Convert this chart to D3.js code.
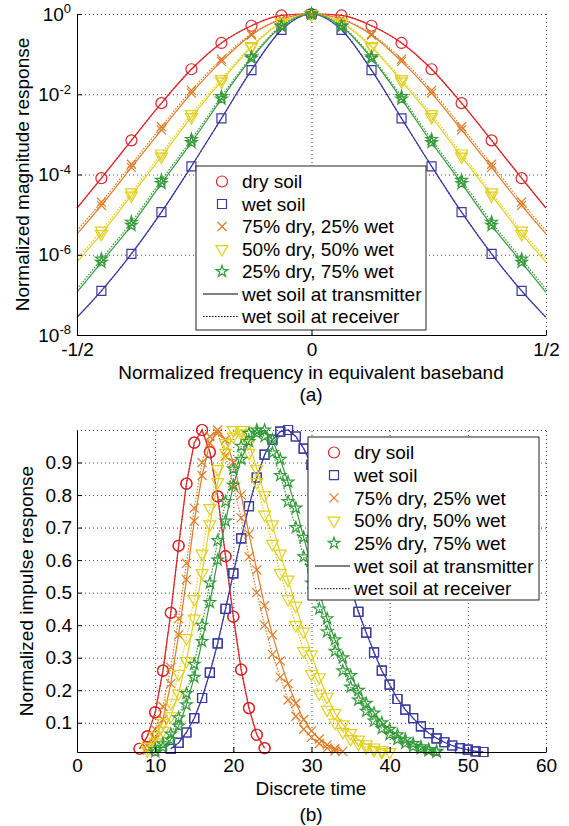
<!DOCTYPE html>
<html>
<head>
<meta charset="utf-8">
<script src="https://cdn.jsdelivr.net/npm/d3@7"></script>
<style>
  body { margin: 0; background: #fff; }
  svg { font-family: "Liberation Sans", Arial, Helvetica, sans-serif; }
  .grid line { stroke: #444; stroke-width: 1; stroke-dasharray: 1,3; }
  .grid path { display: none; }
  .axis path, .axis line { stroke: #000; }
</style>
</head>
<body>
<div id="chart"></div>
<script>
// ---------- data: (a) magnitude response ----------
const freqs = [-0.5, -0.448, -0.384, -0.32, -0.256, -0.192, -0.128, -0.064, 0,
               0.064, 0.128, 0.192, 0.256, 0.32, 0.384, 0.448, 0.5];

const dryMag   = [1.45e-5, 8.1e-5, 7.1e-4, 6.0e-3, 4.2e-2, 0.19, 0.51, 0.92, 1,
                  0.92, 0.51, 0.19, 4.2e-2, 6.0e-3, 7.1e-4, 8.1e-5, 1.45e-5];
const wetMag   = [2.75e-8, 1.26e-7, 1.05e-6, 1.15e-5, 1.6e-4, 2.5e-3, 4.0e-2, 0.40, 1,
                  0.40, 4.0e-2, 2.5e-3, 1.6e-4, 1.15e-5, 1.05e-6, 1.26e-7, 2.75e-8];
const mix75Tx  = [3.3e-6, 1.7e-5, 1.5e-4, 1.3e-3, 1.07e-2, 6.6e-2, 0.30, 0.74, 1,
                  0.74, 0.30, 6.6e-2, 1.07e-2, 1.3e-3, 1.5e-4, 1.7e-5, 3.3e-6];
const mix75Rx  = [4.0e-6, 2.05e-5, 1.8e-4, 1.55e-3, 1.25e-2, 7.5e-2, 0.32, 0.75, 1,
                  0.75, 0.32, 7.5e-2, 1.25e-2, 1.55e-3, 1.8e-4, 2.05e-5, 4.0e-6];
const mix50Tx  = [6.6e-7, 3.3e-6, 3.0e-5, 2.8e-4, 2.7e-3, 2.1e-2, 0.15, 0.60, 1,
                  0.60, 0.15, 2.1e-2, 2.7e-3, 2.8e-4, 3.0e-5, 3.3e-6, 6.6e-7];
const mix50Rx  = [8.0e-7, 4.0e-6, 3.6e-5, 3.35e-4, 3.2e-3, 2.4e-2, 0.16, 0.62, 1,
                  0.62, 0.16, 2.4e-2, 3.2e-3, 3.35e-4, 3.6e-5, 4.0e-6, 8.0e-7];
const mix25Tx  = [1.17e-7, 6.5e-7, 5.4e-6, 6.0e-5, 6.3e-4, 7.6e-3, 7.9e-2, 0.49, 1,
                  0.49, 7.9e-2, 7.6e-3, 6.3e-4, 6.0e-5, 5.4e-6, 6.5e-7, 1.17e-7];
const mix25Rx  = [1.4e-7, 7.8e-7, 6.5e-6, 7.2e-5, 7.5e-4, 8.8e-3, 8.6e-2, 0.51, 1,
                  0.51, 8.6e-2, 8.8e-3, 7.5e-4, 7.2e-5, 6.5e-6, 7.8e-7, 1.4e-7];

const magTicks = [1, 1e-2, 1e-4, 1e-6, 1e-8];
const freqTicks = [-0.5, 0, 0.5];
const freqTickLabels = ["-1/2", "0", "1/2"];

// ---------- data: (b) impulse response (first sample index + values) ----------
const dryStart = 8;
const dryImp = [0.02, 0.058, 0.132, 0.26, 0.438, 0.644, 0.835, 0.961, 1.0, 0.932, 0.796,
                0.612, 0.426, 0.263, 0.145, 0.063, 0.022];
const wetStart = 12;
const wetImp = [0.02, 0.038, 0.07, 0.114, 0.176, 0.254, 0.344, 0.45, 0.559, 0.667, 0.766,
                0.854, 0.924, 0.97, 0.995, 1.0, 0.98, 0.943, 0.893, 0.828, 0.753, 0.673,
                0.593, 0.518, 0.441, 0.377, 0.316, 0.26, 0.217, 0.173, 0.14, 0.114, 0.089,
                0.068, 0.052, 0.04, 0.03, 0.022, 0.017, 0.012, 0.01];
const imp75TxStart = 9;
const imp75Tx = [0.015, 0.05, 0.11, 0.22, 0.37, 0.54, 0.72, 0.86, 0.96, 1.0, 0.97, 0.9, 0.8,
                 0.68, 0.57, 0.46, 0.37, 0.29, 0.22, 0.16, 0.11, 0.075, 0.05, 0.032, 0.02, 0.012];
const imp75RxStart = 9;
const imp75Rx = [0.03, 0.08, 0.15, 0.27, 0.42, 0.59, 0.76, 0.9, 0.98, 0.99, 0.92, 0.83, 0.73,
                 0.61, 0.5, 0.4, 0.31, 0.24, 0.17, 0.12, 0.08, 0.055, 0.036, 0.022, 0.013];
const imp50TxStart = 9;
const imp50Tx = [0.015, 0.04, 0.075, 0.12, 0.19, 0.29, 0.42, 0.56, 0.71, 0.84, 0.93, 0.98, 1.0,
                 0.96, 0.88, 0.8, 0.71, 0.62, 0.54, 0.46, 0.38, 0.31, 0.24, 0.18, 0.13, 0.095,
                 0.068, 0.048, 0.034, 0.024, 0.016, 0.01];
const imp50RxStart = 9;
const imp50Rx = [0.025, 0.06, 0.1, 0.16, 0.25, 0.36, 0.48, 0.62, 0.76, 0.88, 0.96, 1.0, 0.99,
                 0.93, 0.84, 0.74, 0.65, 0.56, 0.48, 0.4, 0.32, 0.25, 0.19, 0.14, 0.1, 0.072,
                 0.05, 0.035, 0.024, 0.016, 0.01];
const imp25TxStart = 10;
const imp25Tx = [0.01, 0.025, 0.048, 0.09, 0.155, 0.24, 0.35, 0.47, 0.6, 0.72, 0.83, 0.91,
                 0.965, 0.99, 1.0, 0.97, 0.91, 0.84, 0.76, 0.67, 0.58, 0.5, 0.42, 0.355, 0.3,
                 0.245, 0.2, 0.16, 0.13, 0.1, 0.08, 0.063, 0.048, 0.036, 0.026, 0.018, 0.012];
const imp25RxStart = 10;
const imp25Rx = [0.018, 0.035, 0.065, 0.115, 0.19, 0.28, 0.4, 0.53, 0.66, 0.78, 0.88, 0.95,
                 0.99, 1.0, 0.98, 0.93, 0.86, 0.78, 0.7, 0.61, 0.53, 0.45, 0.38, 0.32, 0.26,
                 0.21, 0.17, 0.135, 0.105, 0.082, 0.064, 0.049, 0.037, 0.027, 0.02, 0.014, 0.01];

const timeTicks = [0, 10, 20, 30, 40, 50, 60];
const impTicks = [0.1, 0.2, 0.3, 0.4, 0.5, 0.6, 0.7, 0.8, 0.9];

const legendLabels = ["dry soil", "wet soil", "75% dry, 25% wet", "50% dry, 50% wet",
                      "25% dry, 75% wet", "wet soil at transmitter", "wet soil at receiver"];

// ---------- styles ----------
const colors = { dry: "#dc2428", wet: "#3a3aa2", m75: "#e07a24", m50: "#e2d020", m25: "#349a3a" };

const crossType = {
  draw(ctx, size) {
    const r = Math.sqrt(size) / 2;
    ctx.moveTo(-r, -r); ctx.lineTo(r, r);
    ctx.moveTo(r, -r); ctx.lineTo(-r, r);
  }
};
const markers = {
  dry: { type: d3.symbolCircle, size: 95, rot: 0 },
  wet: { type: d3.symbolSquare, size: 81, rot: 0 },
  m75: { type: crossType, size: 81, rot: 0 },
  m50: { type: d3.symbolTriangle, size: 62, rot: 180 },
  m25: { type: d3.symbolStar, size: 42, rot: 0 }
};
const keys = ["dry", "wet", "m75", "m50", "m25"];

const svg = d3.select("#chart").append("svg")
    .attr("width", 569)
    .attr("height", 826);

function drawMarkers(g, pts, key) {
  const m = markers[key];
  g.selectAll(null)
    .data(pts)
    .join("path")
    .attr("d", d3.symbol().type(m.type).size(m.size))
    .attr("transform", d => `translate(${d[0]},${d[1]}) rotate(${m.rot})`)
    .attr("fill", "none")
    .attr("stroke", colors[key])
    .attr("stroke-width", 1.2);
}

function drawLegend(x0, y0, w, h, step) {
  const lg = svg.append("g").attr("transform", `translate(${x0},${y0})`);
  lg.append("rect").attr("width", w).attr("height", h)
    .attr("fill", "#fff").attr("stroke", "#222").attr("stroke-width", 1);
  legendLabels.forEach((lab, i) => {
    const y = 15.5 + i * step;
    if (i < 5) {
      drawMarkers(lg, [[26, y]], keys[i]);
    } else {
      lg.append("line").attr("x1", 7).attr("x2", 42).attr("y1", y).attr("y2", y)
        .attr("stroke", "#000").attr("stroke-width", 1)
        .attr("stroke-dasharray", i === 6 ? "1.5,1.5" : null);
    }
    lg.append("text").attr("x", 46).attr("y", y).attr("dy", "0.35em")
      .attr("font-size", 19).text(lab);
  });
}

// ================= (a) =================
const xA = d3.scaleLinear().domain([-0.5, 0.5]).range([77, 546]);
const yA = d3.scaleLog().domain([1e-8, 1]).range([335, 14]);

const gridA = svg.append("g");
gridA.append("g").attr("class", "grid")
  .attr("transform", "translate(77,0)")
  .call(d3.axisLeft(yA).tickValues([1, 1e-2, 1e-4, 1e-6]).tickSize(-469).tickFormat(""));
gridA.append("g").attr("class", "grid")
  .attr("transform", "translate(0,335)")
  .call(d3.axisBottom(xA).tickValues([0, 0.5]).tickSize(-321).tickFormat(""));

const magSeries = [
  { key: "dry", tx: dryMag, rx: dryMag },
  { key: "wet", tx: wetMag, rx: wetMag },
  { key: "m75", tx: mix75Tx, rx: mix75Rx },
  { key: "m50", tx: mix50Tx, rx: mix50Rx },
  { key: "m25", tx: mix25Tx, rx: mix25Rx }
];
const lineA = d3.line().x(d => xA(d[0])).y(d => yA(d[1])).curve(d3.curveMonotoneX);
const plotA = svg.append("g");
magSeries.forEach(s => {
  const tx = freqs.map((f, i) => [f, s.tx[i]]);
  const rx = freqs.map((f, i) => [f, s.rx[i]]);
  plotA.append("path").datum(rx).attr("d", lineA).attr("fill", "none")
    .attr("stroke", colors[s.key]).attr("stroke-width", 1.2).attr("stroke-dasharray", "1.5,1.5");
  plotA.append("path").datum(tx).attr("d", lineA).attr("fill", "none")
    .attr("stroke", colors[s.key]).attr("stroke-width", 1.2);
  const pick = arr => arr.filter(d => Math.abs(d[0]) < 0.5).map(d => [xA(d[0]), yA(d[1])]);
  drawMarkers(plotA, pick(tx), s.key);
  if (s.rx !== s.tx) drawMarkers(plotA, pick(rx), s.key);
});

const yAxisA = svg.append("g").attr("class", "axis")
  .attr("transform", "translate(77,0)")
  .call(d3.axisLeft(yA).tickValues(magTicks).tickSize(-5).tickSizeOuter(0).tickPadding(6).tickFormat(""));
yAxisA.selectAll(".tick text").each(function(d) {
  const t = d3.select(this).attr("font-size", 19).attr("fill", "#000");
  t.text("10");
  t.append("tspan").attr("dy", "-0.55em").attr("font-size", 13).text(Math.round(Math.log10(d)));
});
const xAxisA = svg.append("g").attr("class", "axis")
  .attr("transform", "translate(0,335)")
  .call(d3.axisBottom(xA).tickValues(freqTicks).tickSize(-5).tickSizeOuter(0).tickPadding(8)
    .tickFormat((d, i) => freqTickLabels[i]));
xAxisA.selectAll("text").attr("font-size", 19).attr("fill", "#000");

drawLegend(196, 166, 230, 164, 22.5);

svg.append("text").attr("x", 311).attr("y", 379).attr("text-anchor", "middle")
  .attr("font-size", 19).text("Normalized frequency in equivalent baseband");
svg.append("text").attr("transform", "translate(29,174.5) rotate(-90)").attr("text-anchor", "middle")
  .attr("font-size", 19).text("Normalized magnitude response");
svg.append("text").attr("x", 311).attr("y", 401).attr("text-anchor", "middle")
  .attr("font-size", 19).text("(a)");

// ================= (b) =================
const xB = d3.scaleLinear().domain([0, 60]).range([77, 546]);
const yB = d3.scaleLinear().domain([0.01, 1]).range([752, 430]);

const gridB = svg.append("g");
gridB.append("g").attr("class", "grid")
  .attr("transform", "translate(77,0)")
  .call(d3.axisLeft(yB).tickValues(impTicks.concat([1])).tickSize(-469).tickFormat(""));
gridB.append("g").attr("class", "grid")
  .attr("transform", "translate(0,752)")
  .call(d3.axisBottom(xB).tickValues(timeTicks.slice(1)).tickSize(-322).tickFormat(""));

const impSeries = [
  { key: "dry", tx: [dryStart, dryImp], rx: [dryStart, dryImp] },
  { key: "wet", tx: [wetStart, wetImp], rx: [wetStart, wetImp] },
  { key: "m75", tx: [imp75TxStart, imp75Tx], rx: [imp75RxStart, imp75Rx] },
  { key: "m50", tx: [imp50TxStart, imp50Tx], rx: [imp50RxStart, imp50Rx] },
  { key: "m25", tx: [imp25TxStart, imp25Tx], rx: [imp25RxStart, imp25Rx] }
];
const lineB = d3.line().x(d => xB(d[0])).y(d => yB(d[1]));
const plotB = svg.append("g");
impSeries.forEach(s => {
  const toPts = ([start, vals]) => vals.map((v, i) => [start + i, v]);
  const tx = toPts(s.tx), rx = toPts(s.rx);
  plotB.append("path").datum(rx).attr("d", lineB).attr("fill", "none")
    .attr("stroke", colors[s.key]).attr("stroke-width", 1.2).attr("stroke-dasharray", "1.5,1.5");
  plotB.append("path").datum(tx).attr("d", lineB).attr("fill", "none")
    .attr("stroke", colors[s.key]).attr("stroke-width", 1.2);
  drawMarkers(plotB, tx.map(d => [xB(d[0]), yB(d[1])]), s.key);
  if (s.rx !== s.tx) drawMarkers(plotB, rx.map(d => [xB(d[0]), yB(d[1])]), s.key);
});

const yAxisB = svg.append("g").attr("class", "axis")
  .attr("transform", "translate(77,0)")
  .call(d3.axisLeft(yB).tickValues(impTicks).tickSize(-5).tickSizeOuter(0).tickPadding(5)
    .tickFormat(d3.format(".1f")));
yAxisB.selectAll("text").attr("font-size", 19).attr("fill", "#000");
const xAxisB = svg.append("g").attr("class", "axis")
  .attr("transform", "translate(0,752)")
  .call(d3.axisBottom(xB).tickValues(timeTicks).tickSize(-5).tickSizeOuter(0).tickPadding(7));
xAxisB.selectAll("text").attr("font-size", 19).attr("fill", "#000");

drawLegend(308, 437, 231, 163, 22.7);

svg.append("text").attr("x", 311).attr("y", 795).attr("text-anchor", "middle")
  .attr("font-size", 19).text("Discrete time");
svg.append("text").attr("transform", "translate(33,591) rotate(-90)").attr("text-anchor", "middle")
  .attr("font-size", 19).text("Normalized impulse response");
svg.append("text").attr("x", 311).attr("y", 821).attr("text-anchor", "middle")
  .attr("font-size", 19).text("(b)");
</script>
</body>
</html>
